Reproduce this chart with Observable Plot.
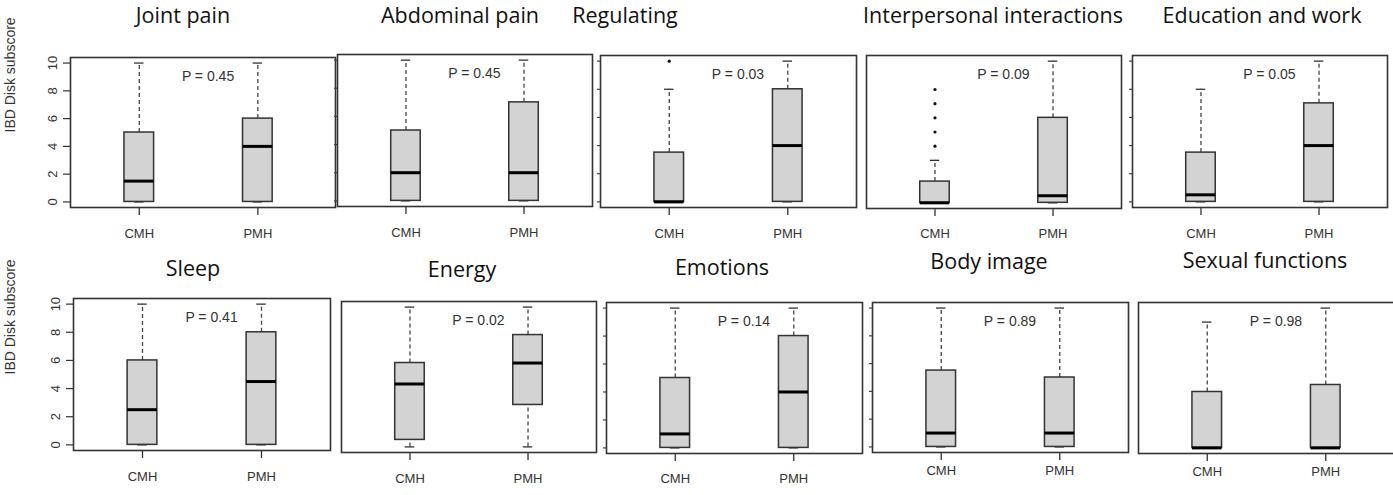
<!DOCTYPE html>
<html><head><meta charset="utf-8">
<script src="https://cdn.jsdelivr.net/npm/d3@7"></script>
<script src="https://cdn.jsdelivr.net/npm/@observablehq/plot@0.6"></script>
<style>
html,body{margin:0;padding:0;background:#fff;overflow:hidden;}
#root{position:relative;width:1393px;height:495px;overflow:hidden;background:#fff;}
.panel{position:absolute;}
#titles{position:absolute;left:0;top:0;}
</style></head><body><div id="root"></div>
<script>
// ---- data ----
const titles = ["Joint pain","Abdominal pain","Regulating","Interpersonal interactions","Education and work",
                "Sleep","Energy","Emotions","Body image","Sexual functions"];
const groups = ["CMH","PMH"];
const pValues = [0.45,0.45,0.03,0.09,0.05,0.41,0.02,0.14,0.89,0.98];
const yTicks = [0,2,4,6,8,10];
const yAxisTitle = "IBD Disk subscore";

const cmhMin    = [0,0,0,0,0,0,0,0,0,0];
const cmhQ1     = [0,0,0,0,0,0,0.5,0,0,0];
const cmhMedian = [1.5,2,0,0,0.5,2.5,4.5,1,1,0];
const cmhQ3     = [5,5,3.5,1.5,3.5,6,6,5,5.5,4];
const cmhMax    = [10,10,8,3,8,10,10,10,10,9];
const cmhOutliers = [[],[],[10],[4,5,6,7,8],[],[],[],[],[],[]];

const pmhMin    = [0,0,0,0,0,0,0,0,0,0];
const pmhQ1     = [0,0,0,0,0,0,3,0,0,0];
const pmhMedian = [4,2,4,0.5,4,4.5,6,4,1,0];
const pmhQ3     = [6,7,8,6,7,8,8,8,5,4.5];
const pmhMax    = [10,10,10,10,10,10,10,10,10,10];
const pmhOutliers = [[],[],[],[],[],[],[],[],[],[]];

// ---- layout (pixel frames of each panel, title anchors) ----
const layout = [
  {L:70,  R:335,  T:57,  B:207, xMax:2.655, tx:183,  ty:23, first:true,  ticks:true,  xPad:13},
  {L:337, R:592,  T:54,  B:206, xMax:2.58,  tx:460,  ty:23, first:false, ticks:true,  xPad:13},
  {L:600, R:856,  T:55,  B:207, xMax:2.58,  tx:625,  ty:23, first:false, ticks:true,  xPad:13},
  {L:866, R:1121, T:55,  B:208, xMax:2.58,  tx:993,  ty:23, first:false, ticks:false, xPad:12},
  {L:1132,R:1387, T:55,  B:207, xMax:2.58,  tx:1262, ty:23, first:false, ticks:true,  xPad:13},
  {L:73,  R:330,  T:298, B:450, xMax:2.58,  tx:193,  ty:276, first:true, ticks:true,  xPad:13},
  {L:341, R:596,  T:301, B:452, xMax:2.58,  tx:462,  ty:277, first:false,ticks:false, xPad:13},
  {L:606, R:862,  T:302, B:453, xMax:2.58,  tx:722,  ty:275, first:false,ticks:true,  xPad:12},
  {L:872, R:1128, T:302, B:452, xMax:2.58,  tx:989,  ty:269, first:false,ticks:true,  xPad:5},
  {L:1138,R:1394, T:302, B:453, xMax:2.58,  tx:1265, ty:268, first:false,ticks:false, xPad:5}
];
const boxHalf = 0.125, capHalf = 0.04;
const pLabelX = 1.58, pLabelY = 9.05;

const root = document.getElementById("root");

// titles
const tsvg = d3.select(root).append("svg").attr("id","titles").attr("width",1393).attr("height",495);
tsvg.selectAll("text").data(titles).join("text")
  .attr("x",(d,i)=>layout[i].tx).attr("y",(d,i)=>layout[i].ty)
  .attr("text-anchor","middle")
  .attr("font-family","'Open Sans', sans-serif").attr("font-size",21.5).attr("fill","#111")
  .text(d=>d);

titles.forEach((title, i) => {
  const lay = layout[i];
  const rows = groups.map((g, j) => j === 0
    ? {g, x: 1, min: cmhMin[i], q1: cmhQ1[i], med: cmhMedian[i], q3: cmhQ3[i], max: cmhMax[i]}
    : {g, x: 2, min: pmhMin[i], q1: pmhQ1[i], med: pmhMedian[i], q3: pmhQ3[i], max: pmhMax[i]});
  const outs = [
    ...cmhOutliers[i].map(v => ({x: 1, v})),
    ...pmhOutliers[i].map(v => ({x: 2, v}))
  ];
  const mL = lay.first ? lay.L : 12, mR = 8, mT = 8, mB = 40;
  const width = (lay.R - lay.L) + mL + mR;
  const height = (lay.B - lay.T) + mT + mB;

  const marks = [
    Plot.axisX([1, 2], {tickSize: 8, tickPadding: lay.xPad, tickFormat: d => groups[d - 1],
      fontSize: 13, color: "#333", strokeWidth: 1.3, label: null}),
  ];
  if (lay.ticks) {
    marks.push(lay.first
      ? Plot.axisY(yTicks, {tickSize: 7, tickRotate: -90, tickPadding: 7, tickFormat: d => String(d),
          fontSize: 13, color: "#333", strokeWidth: 1.2, label: null})
      : Plot.axisY(yTicks, {tickSize: 3, stroke: "#444", fill: "none", strokeWidth: 1.2, label: null}));
  }
  if (lay.first) {
    marks.push(Plot.text([yAxisTitle], {frameAnchor: "left", dx: -(lay.L - 10), rotate: -90,
      text: d => d, fontSize: 14, fill: "#333"}));
  }
  marks.push(
    Plot.ruleX(rows, {x: "x", y1: "q3", y2: "max", stroke: "#444", strokeWidth: 1.3, strokeDasharray: "4,3"}),
    Plot.ruleX(rows, {x: "x", y1: "min", y2: "q1", stroke: "#444", strokeWidth: 1.3, strokeDasharray: "4,3"}),
    Plot.ruleY(rows, {y: "max", x1: d => d.x - capHalf, x2: d => d.x + capHalf, stroke: "#333", strokeWidth: 1.3}),
    Plot.ruleY(rows, {y: "min", x1: d => d.x - capHalf, x2: d => d.x + capHalf, stroke: "#333", strokeWidth: 1.3}),
    Plot.rect(rows, {x1: d => d.x - boxHalf, x2: d => d.x + boxHalf, y1: "q1", y2: "q3",
      fill: "#d3d3d3", stroke: "#333", strokeWidth: 1.5}),
    Plot.ruleY(rows, {y: "med", x1: d => d.x - boxHalf, x2: d => d.x + boxHalf, stroke: "#000", strokeWidth: 3}),
    Plot.dot(outs, {x: "x", y: "v", r: 1.6, fill: "#111", stroke: null}),
    Plot.text([pValues[i]], {x: () => pLabelX, y: () => pLabelY, text: d => `P = ${d.toFixed(2)}`,
      fontSize: 14, fill: "#333"}),
    Plot.frame({stroke: "#333", strokeWidth: 1.6})
  );

  const chart = Plot.plot({
    width, height, marginLeft: mL, marginRight: mR, marginTop: mT, marginBottom: mB,
    x: {domain: [0.42, lay.xMax], axis: null},
    y: {domain: [-0.4, 10.4], axis: null},
    style: {fontFamily: "'Liberation Sans', Arial, sans-serif", background: "transparent", overflow: "visible", color: "#333"},
    marks
  });
  chart.classList.add("panel");
  chart.style.left = (lay.L - mL) + "px";
  chart.style.top = (lay.T - mT) + "px";
  root.appendChild(chart);
});
</script>
</body></html>
